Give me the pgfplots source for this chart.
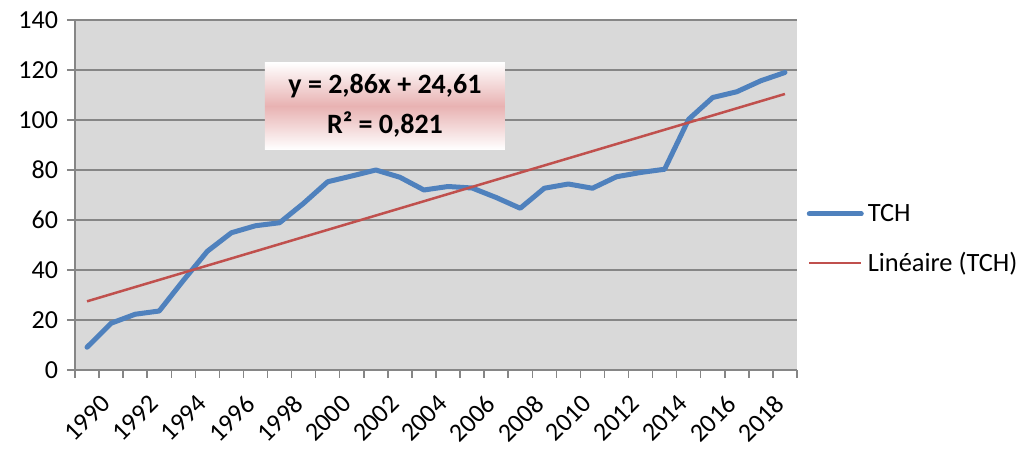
\documentclass[border=0pt]{standalone}
\usepackage{fontspec}
\setmainfont{Carlito}
\usepackage{pgfplots}
\pgfplotsset{compat=1.18}
\definecolor{tchblue}{RGB}{79,129,189}
\definecolor{trendred}{RGB}{192,80,77}
\definecolor{bggray}{RGB}{217,217,217}
\definecolor{gridgray}{RGB}{134,134,134}
\definecolor{boxpink}{RGB}{232,178,178}
\begin{document}
\begin{tikzpicture}
\begin{axis}[
 scale only axis, width=361pt, height=175pt,
 xmin=-0.5, xmax=29.5, ymin=0, ymax=140,
 axis x line*=bottom, axis y line*=left,
 axis line style={gridgray, line width=0.75pt},
 axis background/.style={fill=bggray},
 ytick={0,20,...,140},
 ymajorgrids, major grid style={gridgray, line width=0.75pt},
 xtick={0,2,...,28},
 xticklabels={1990,1992,1994,1996,1998,2000,2002,2004,2006,2008,2010,2012,2014,2016,2018},
 major x tick style={draw=none},
 minor xtick={-0.5,0.5,...,29.5},
 tick align=outside, major tick length=4pt, minor tick length=4pt,
 tick style={gridgray, line width=0.75pt},
 /pgf/number format/assume math mode=true,
 yticklabel style={font=\fontsize{13}{15}\selectfont, xshift=-1pt},
 xticklabel style={font=\fontsize{13}{15}\selectfont, rotate=45, anchor=north east, xshift=2.5pt, yshift=-6.5pt},
 legend style={at={(1.013,0.374)}, anchor=west, draw=none, fill=none, inner sep=0pt, font=\fontsize{13.2}{15}\selectfont, row sep=10pt},
 legend image code/.code={\draw[#1] (0pt,0pt) -- (26pt,0pt);},
 legend cell align=left,
]
\addplot[tchblue, line width=2.5pt, line join=round, line cap=round] coordinates {
(0,9.1) (1,18.7) (2,22.3) (3,23.6) (4,35.8) (5,47.5) (6,54.9) (7,57.7) (8,58.9) (9,66.7)
(10,75.3) (11,77.6) (12,80.0) (13,77.1) (14,72.0) (15,73.4) (16,72.8) (17,69.0) (18,64.7) (19,72.7)
(20,74.4) (21,72.7) (22,77.3) (23,79.0) (24,80.3) (25,100.3) (26,109.0) (27,111.3) (28,115.7) (29,119.0)};
\addlegendentry{TCH}
\addplot[trendred, line width=1.25pt] coordinates {(0,27.47) (29,110.41)};
\addlegendentry{Linéaire (TCH)}
\node[top color=white, bottom color=white, middle color=boxpink, minimum width=120pt, minimum height=43.5pt, align=center, font=\fontsize{14}{20}\selectfont\bfseries] at (axis cs:12.38,105.6) {y = 2,86x + 24,61\\R² = 0,821};
\coordinate (ll) at (rel axis cs:0,0);
\end{axis}
\pgfresetboundingbox
\path[use as bounding box] ([shift={(-37.5pt,-42.5pt)}]ll) rectangle ([shift={(472pt,185pt)}]ll);
\end{tikzpicture}
\end{document}
